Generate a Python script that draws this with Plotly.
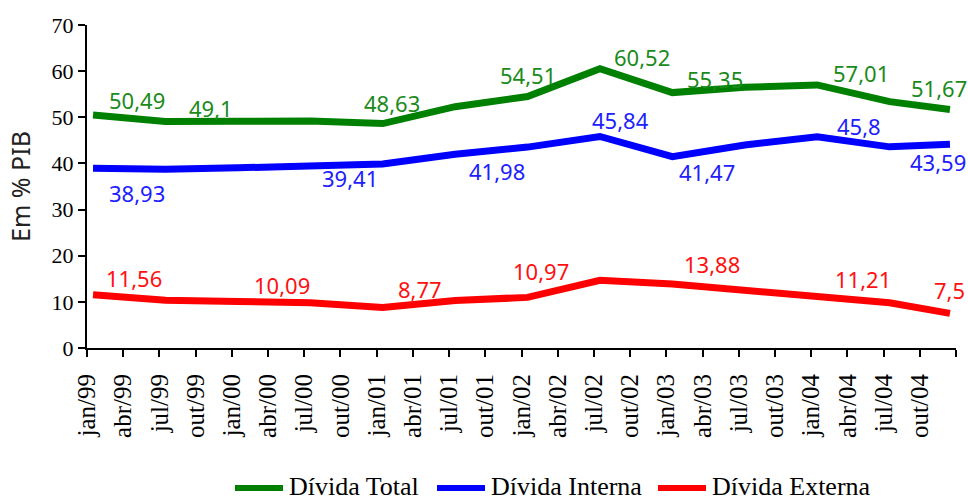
import plotly.graph_objects as go

# ---- data ----
tick_labels = ["jan/99", "abr/99", "jul/99", "out/99", "jan/00", "abr/00", "jul/00", "out/00",
               "jan/01", "abr/01", "jul/01", "out/01", "jan/02", "abr/02", "jul/02", "out/02",
               "jan/03", "abr/03", "jul/03", "out/03", "jan/04", "abr/04", "jul/04", "out/04"]
# observation month (months since jan/99)
obs_months = [0, 6, 12, 18, 24, 30, 36, 42, 48, 54, 60, 66, 71]
divida_total = [50.49, 49.10, 49.14, 49.20, 48.63, 52.30, 54.51, 60.52, 55.35, 56.50, 57.01, 53.40, 51.67]
divida_interna = [38.93, 38.75, 39.05, 39.41, 39.86, 41.98, 43.54, 45.84, 41.47, 44.00, 45.80, 43.59, 44.17]
divida_externa = [11.56, 10.35, 10.09, 9.80, 8.77, 10.30, 10.97, 14.68, 13.88, 12.50, 11.21, 9.80, 7.50]
series_names = ["Dívida Total", "Dívida Interna", "Dívida Externa"]

# which points carry a value label
labels_total = [0, 1, 4, 6, 7, 8, 10, 12]
labels_interna = [0, 3, 5, 7, 8, 10, 11]
labels_externa = [0, 2, 4, 6, 8, 10, 12]

# ---- styling ----
GREEN, BLUE, RED = "#008000", "#0000FF", "#FF0000"
LABEL_COLORS = ["#1a8a1a", "#2020FF", "#FF1010"]
SERIF = "Liberation Serif"
SANS = "Noto Sans"
W, H = 968, 503
ML, MR, MT, MB = 87, 12, 25, 155

# label offsets in pixels (dx, dy-down)
off_total = [(44, -15), (46, -13), (9, -21), (0, -21), (42, -12), (43, -14), (44, -12), (-11, -22)]
off_interna = [(44, 25), (40, 11.5), (42, 17), (21, -16), (35, 15), (42, -11), (48, 15)]
off_externa = [(41, -17), (44, -16), (37, -18.5), (13, -26), (40, -20), (46, -17), (0, -23)]

# legend layout (pixel positions)
legend_line_x = [235, 437, 658]
legend_line_len = 48
legend_y = 486

xs = [m + 0.5 for m in obs_months]


def fmt(v):
    s = f"{v:.2f}".rstrip("0").rstrip(".")
    return s.replace(".", ",")


def px_x(px):
    return (px - ML) / (W - ML - MR)


def px_y(py):
    return (H - MB - py) / (H - MT - MB)


colors = [GREEN, BLUE, RED]
fig = go.Figure()
for name, vals, col in zip(series_names, [divida_total, divida_interna, divida_externa], colors):
    fig.add_trace(go.Scatter(x=xs, y=vals, mode="lines", name=name,
                             line=dict(color=col, width=7), hoverinfo="skip"))

annotations = []
for vals, idxs, offs, col in [(divida_total, labels_total, off_total, LABEL_COLORS[0]),
                              (divida_interna, labels_interna, off_interna, LABEL_COLORS[1]),
                              (divida_externa, labels_externa, off_externa, LABEL_COLORS[2])]:
    for i, (dx, dy) in zip(idxs, offs):
        annotations.append(dict(x=xs[i], y=vals[i], xref="x", yref="y", text=fmt(vals[i]),
                                showarrow=False, xanchor="center", yanchor="middle",
                                xshift=dx, yshift=-dy,
                                font=dict(family=SANS, size=22, color=col)))

# custom legend: line swatch + label
shapes = []
for name, col, lx in zip(series_names, colors, legend_line_x):
    shapes.append(dict(type="line", xref="paper", yref="paper",
                       x0=px_x(lx), x1=px_x(lx + legend_line_len),
                       y0=px_y(legend_y + 2), y1=px_y(legend_y + 2),
                       line=dict(color=col, width=6)))
    annotations.append(dict(x=px_x(lx + legend_line_len + 5), y=px_y(legend_y),
                            xref="paper", yref="paper", text=name, showarrow=False,
                            xanchor="left", yanchor="middle", borderpad=0,
                            font=dict(family=SERIF, size=26, color="black")))

tickvals = [3 * k for k in range(len(tick_labels) + 1)]
ticktext = tick_labels + [""]

fig.update_layout(
    width=W, height=H,
    margin=dict(l=ML, r=MR, t=MT, b=MB),
    paper_bgcolor="white", plot_bgcolor="white",
    showlegend=False,
    annotations=annotations,
    shapes=shapes,
    xaxis=dict(range=[0, 72], tickmode="array", tickvals=tickvals, ticktext=ticktext,
               tickangle=-90, showgrid=False, zeroline=False, showline=True, automargin=False,
               linecolor="black", linewidth=2, ticks="outside", ticklen=7, tickwidth=2,
               ticklabelstandoff=7,
               tickcolor="black", tickfont=dict(family=SERIF, size=25, color="black")),
    yaxis=dict(range=[0, 70], tickmode="linear", tick0=0, dtick=10, showgrid=False,
               zeroline=False, showline=True, linecolor="black", linewidth=2, automargin=False,
               ticks="outside", ticklen=7, tickwidth=2, tickcolor="black",
               tickfont=dict(family=SERIF, size=22, color="black"),
               title=dict(text="Em % PIB", font=dict(family=SANS, size=25, color="#222222"),
                          standoff=14)),
)

fig.write_html("out.html", config={"displayModeBar": False},
               post_script="document.body.style.margin='0';")
